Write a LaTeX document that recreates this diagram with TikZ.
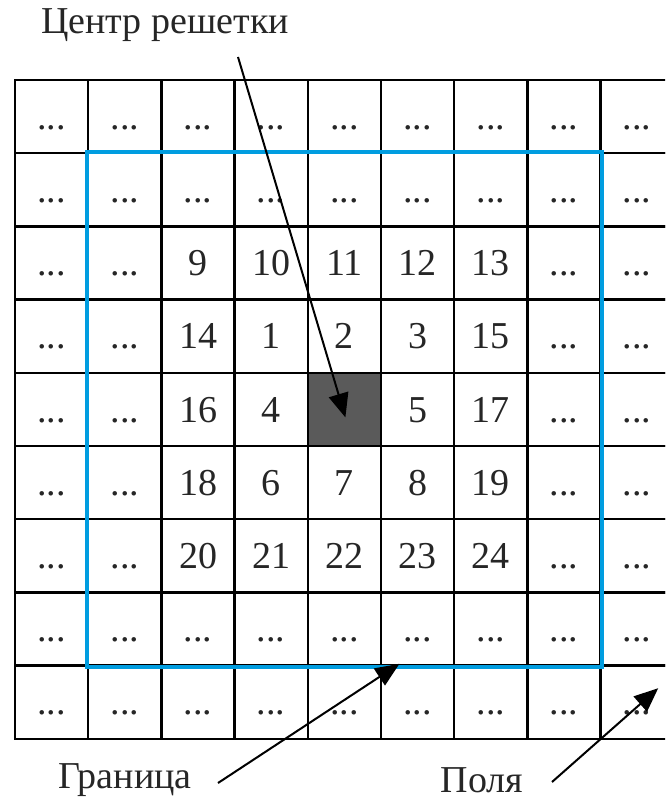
\documentclass[tikz,border=0pt]{standalone}
\usepackage{fontspec}
\setmainfont{Liberation Serif}
\usetikzlibrary{arrows.meta,calc}

\definecolor{bndblue}{RGB}{0,157,224}
\definecolor{centgray}{RGB}{90,90,90}
\newcommand{\dts}{...}

\begin{document}
\begin{tikzpicture}[
  x=0.5pt, y=-0.5pt,
  font=\fontsize{19}{22}\selectfont,
  cell/.style={draw, line width=1.2pt, minimum size=36.6pt, inner sep=0pt,
    text height=12.6pt, text depth=0pt, text=black!85},
  centre/.style={cell, fill=centgray},
  bnd/.style={draw=bndblue, line width=2.2pt},
  arr/.style={-{Triangle[length=12pt,width=10pt]}, line width=1pt},
  lbl/.style={text=black!85, inner sep=1pt}
]
\useasboundingbox (0,0) rectangle (665,801);
\clip (0,0) rectangle (665,801);

% grid 9x9, cell = 73.2 px
\def\CW{73.2}
\foreach \r/\row in {0/{\dts,\dts,\dts,\dts,\dts,\dts,\dts,\dts,\dts},
                     1/{\dts,\dts,\dts,\dts,\dts,\dts,\dts,\dts,\dts},
                     2/{\dts,\dts,9,10,11,12,13,\dts,\dts},
                     3/{\dts,\dts,14,1,2,3,15,\dts,\dts},
                     4/{\dts,\dts,16,4,,5,17,\dts,\dts},
                     5/{\dts,\dts,18,6,7,8,19,\dts,\dts},
                     6/{\dts,\dts,20,21,22,23,24,\dts,\dts},
                     7/{\dts,\dts,\dts,\dts,\dts,\dts,\dts,\dts,\dts},
                     8/{\dts,\dts,\dts,\dts,\dts,\dts,\dts,\dts,\dts}} {
  \foreach \t [count=\c from 0] in \row {
    \node[cell] (c-\r-\c) at ({15+\CW*(\c+0.5)},{80+\CW*(\r+0.5)}) {\t};
  }
}
\node[centre] (cent) at (c-4-4) {};

% boundary
\draw[bnd] (c-1-1.north west) rectangle (c-7-7.south east);

% labels
\node[lbl] (lcent) at (165,25) {Центр решетки};
\node[lbl] (lbnd) at (125,780) {Граница};
\node[lbl] (lfld) at (482,780) {Поля};

\coordinate (tcent) at (238,57);
\coordinate (tbnd) at (218,783);
\coordinate (tfld) at (552,782);
\draw[arr] (tcent) -- ($(cent.center)+(1,8)$);
\draw[arr] (tbnd) -- ($(c-7-4.south)+(55,-3)$);
\draw[arr] (tfld) -- ($(c-8-8.center)+(21,-14)$);

\end{tikzpicture}
\end{document}
